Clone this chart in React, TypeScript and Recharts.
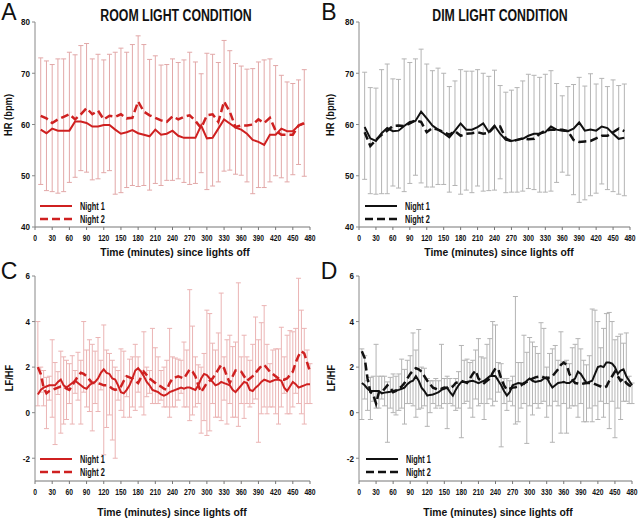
import { ErrorBar, Line, LineChart, XAxis, YAxis } from "recharts";

const FONT = "'Liberation Sans', Arial, sans-serif";

// x ticks shared by all panels
const X_TICKS = [0, 30, 60, 90, 120, 150, 180, 210, 240, 270, 300, 330, 360, 390, 420, 450, 480];
const HR_TICKS = [40, 50, 60, 70, 80];
const LFHF_TICKS = [-2, 0, 2, 4, 6];

// HR sampled every 10 minutes
const HR_MINUTES = [
  10, 20, 30, 40, 50, 60, 70, 80, 90, 100, 110, 120, 130, 140, 150, 160,
  170, 180, 190, 200, 210, 220, 230, 240, 250, 260, 270, 280, 290, 300, 310, 320,
  330, 340, 350, 360, 370, 380, 390, 400, 410, 420, 430, 440, 450, 460, 470,
];

// LF/HF sampled every 5 minutes
const LFHF_MINUTES = [
  5, 10, 15, 20, 25, 30, 35, 40, 45, 50, 55, 60,
  65, 70, 75, 80, 85, 90, 95, 100, 105, 110, 115, 120,
  125, 130, 135, 140, 145, 150, 155, 160, 165, 170, 175, 180,
  185, 190, 195, 200, 205, 210, 215, 220, 225, 230, 235, 240,
  245, 250, 255, 260, 265, 270, 275, 280, 285, 290, 295, 300,
  305, 310, 315, 320, 325, 330, 335, 340, 345, 350, 355, 360,
  365, 370, 375, 380, 385, 390, 395, 400, 405, 410, 415, 420,
  425, 430, 435, 440, 445, 450, 455, 460, 465, 470, 475, 480,
];

// A: room light, HR
const ROOM_HR_N1 = [
  59, 58.3, 59.2, 58.8, 58.8, 58.8, 60.6, 60.6, 60.3, 59.6,
  59.6, 59.9, 59.9, 59, 58.2, 58.5, 58.9, 58.3, 58, 57.7,
  59, 58, 58.2, 58.8, 57.8, 57.4, 57.4, 57.4, 59.8, 57.3,
  57.4, 59.2, 61, 60.2, 59.4, 59, 58.2, 57, 56.6, 56,
  58, 58, 59.2, 58.7, 58.7, 59.8, 60.2,
];
const ROOM_HR_N2 = [
  61.7, 61.2, 60.3, 61, 61.5, 62, 61, 62, 63.2, 62,
  62.7, 61, 61.7, 61.5, 62, 61.2, 61.3, 64.5, 62.5, 61.8,
  61.3, 60.8, 60.5, 61.6, 61, 61.5, 61.8, 60.7, 59.3, 61.8,
  62, 60.5, 64.5, 62.5, 59.5, 59.8, 59.8, 60, 61, 60.3,
  61.3, 58.8, 58, 58, 58, 59.8, 60.3,
];
const ROOM_HR_TOP = [
  73.0, 72.4, 71.7, 72.8, 72.8, 74.1, 73.6, 75.4, 75.8, 72.8,
  73.7, 72.6, 73.7, 74.1, 74.9, 74.1, 75.6, 77.3, 75.6, 72.7,
  73.4, 71.6, 71.7, 72.8, 72.1, 72.6, 74.1, 72.2, 69.9, 73.9,
  73.7, 72.1, 76.4, 74.4, 71.9, 71.4, 70.8, 70.9, 72.2, 72.6,
  72.8, 71.5, 69.6, 68.3, 68.0, 68.7, 70.7,
];
const ROOM_HR_BOTTOM = [
  48.3, 47.1, 46.9, 46.6, 46.9, 48.7, 49.7, 51.0, 50.7, 49.2,
  49.4, 50.6, 51.0, 46.4, 46.7, 47.7, 48.1, 47.9, 48.1, 47.2,
  48.5, 48.1, 49.1, 49.1, 49.4, 48.7, 48.3, 48.5, 50.6, 47.3,
  48.0, 48.8, 50.9, 51.1, 50.3, 50.1, 48.8, 46.5, 47.7, 47.7,
  48.8, 50.0, 49.6, 48.8, 50.2, 52.2, 49.9,
];

// B: dim light, HR
const DIM_HR_N1 = [
  59.5, 57.3, 56.8, 58.3, 59.3, 58.7, 58.8, 59.7, 60.5, 60.7,
  62.5, 61.2, 59.8, 59, 58.3, 57.5, 58.8, 60.2, 59, 59,
  59.5, 60.2, 58.5, 59.8, 58.2, 57, 56.8, 57, 57.2, 57.8,
  58.2, 58.2, 58.5, 59.6, 59, 58.8, 58.7, 59.2, 60.4, 58.8,
  59, 58.8, 59.6, 59.3, 58.2, 57.2, 57.4,
];
const DIM_HR_N2 = [
  58.5, 55.8, 57, 58, 58.8, 59.7, 59.8, 59.7, 60.2, 60.8,
  60.5, 58.5, 59.3, 59, 58.5, 58, 58.7, 57.8, 58.2, 58.3,
  58.5, 58.2, 58.4, 59.6, 59.6, 57.3, 56.7, 57, 57.3, 57.1,
  57.2, 58.2, 58.8, 59, 59, 59, 58.7, 57, 56.6, 56.7,
  56.8, 57.3, 57.8, 57.8, 58.5, 59.2, 58.7,
];
const DIM_HR_TOP = [
  70.2, 67.2, 67.1, 70.7, 71.8, 68.9, 68.8, 72.8, 72.1, 72.8,
  74.7, 71.8, 70.5, 71.0, 70.0, 67.4, 68.5, 70.7, 70.4, 70.4,
  70.7, 70.0, 69.4, 70.6, 67.6, 66.3, 66.7, 67.2, 68.5, 69.8,
  69.6, 69.2, 69.8, 70.5, 68.0, 65.6, 67.4, 67.8, 69.2, 67.5,
  69.9, 67.9, 69.0, 67.4, 68.7, 67.6, 67.9,
];
const DIM_HR_BOTTOM = [
  49.3, 46.5, 46.4, 46.5, 46.5, 48.0, 47.6, 46.9, 48.5, 50.1,
  48.6, 47.8, 47.8, 48.3, 48.3, 46.8, 48.1, 46.4, 47.2, 46.7,
  48.0, 47.0, 47.1, 47.2, 49.4, 46.7, 46.8, 46.8, 47.0, 47.5,
  47.3, 46.8, 46.8, 47.0, 48.7, 50.7, 50.1, 46.3, 44.8, 45.3,
  46.1, 46.6, 48.4, 47.3, 46.9, 46.4, 46.1,
];

// C: room light, LF/HF
const ROOM_LF_N1 = [
  0.8, 1.0, 1.1, 1.15, 1.2, 1.2, 1.2, 1.35, 1.45, 1.2, 1.1, 1.2,
  1.3, 1.4, 1.3, 1.2, 1.1, 1.05, 1.2, 1.3, 1.35, 1.5, 1.75, 1.9,
  1.75, 1.7, 1.5, 1.45, 1.2, 0.9, 0.85, 1.0, 1.2, 1.5, 1.85, 1.95,
  1.8, 1.6, 1.35, 1.2, 1.0, 0.95, 0.9, 0.8, 0.75, 0.8, 0.9, 0.95,
  1.0, 1.05, 1.1, 1.05, 1.1, 1.1, 1.05, 1.0, 1.2, 1.5, 1.7, 1.65,
  1.5, 1.35, 1.2, 1.25, 1.35, 1.3, 1.25, 1.2, 1.0, 0.9, 1.05, 1.2,
  1.35, 1.3, 1.0, 0.95, 1.1, 1.2, 1.35, 1.45, 1.4, 1.35, 1.4, 1.45,
  1.45, 1.4, 1.1, 0.95, 1.15, 1.35, 1.25, 1.1, 1.15, 1.2, 1.25, 1.25,
];
const ROOM_LF_N2 = [
  2.0, 1.7, 1.1, 0.85, 0.95, 1.0, 1.05, 1.1, 1.15, 1.15, 1.05, 1.0,
  1.2, 1.4, 1.6, 1.75, 1.7, 1.6, 1.45, 1.3, 1.3, 1.3, 1.25, 1.2,
  1.2, 1.15, 1.05, 1.0, 1.05, 1.15, 1.4, 1.6, 1.55, 1.5, 1.4, 1.3,
  1.55, 1.8, 1.65, 1.5, 1.4, 1.3, 1.2, 1.15, 1.05, 1.0, 1.3, 1.5,
  1.55, 1.6, 1.55, 1.5, 1.7, 1.9, 1.8, 1.6, 1.2, 0.9, 1.1, 1.3,
  1.4, 1.5, 1.7, 1.9, 2.1, 1.95, 1.6, 1.3, 1.6, 1.85, 1.85, 1.8,
  1.6, 1.4, 1.5, 1.6, 1.75, 1.9, 2.05, 2.1, 1.95, 1.8, 1.7, 1.6,
  1.5, 1.45, 1.45, 1.5, 1.65, 1.8, 2.2, 2.5, 2.7, 2.6, 2.2, 1.8,
];
const ROOM_LF_TOP = [
  4.0, 2.0, 1.85, 1.55, 1.6, 3.2, 2.2, 1.8, 2.7, 2.45, 2.3, 2.15,
  2.5, 1.85, 2.65, 2.3, 4.0, 2.75, 3.2, 3.0, 2.7, 3.3, 2.3, 3.85,
  2.75, 2.6, 2.3, 2.0, 1.85, 2.8, 2.7, 1.6, 2.35, 2.45, 3.0, 2.45,
  1.85, 3.55, 2.0, 1.85, 3.7, 2.85, 2.45, 1.85, 2.0, 2.3, 3.7, 2.45,
  2.4, 2.35, 2.3, 3.1, 2.75, 5.4, 3.8, 2.45, 2.1, 2.0, 2.6, 4.5,
  4.35, 3.05, 2.75, 3.5, 5.25, 2.45, 3.2, 3.4, 2.9, 3.1, 5.7, 2.45,
  3.4, 2.45, 2.3, 3.0, 4.2, 3.2, 3.95, 4.7, 3.0, 2.15, 2.75, 2.8,
  2.8, 3.75, 2.45, 3.4, 3.6, 3.55, 3.7, 5.9, 4.5, 3.7, 2.75, 2.15,
];
const ROOM_LF_BOTTOM = [
  0.3, 0.9, 0.3, -0.7, 0.55, -0.2, -1.4, 0.8, -0.9, -0.5, -0.3, 0.4,
  -0.5, 0.85, 0.55, -0.5, 0.9, 0.25, 0.05, -0.8, 0.4, 0.05, 1.0, -1.85,
  -0.65, -0.1, -1.2, -2.0, 0.55, 0.1, -0.2, 0.7, -0.2, 0.25, 0.1, 0.9,
  0.25, -0.1, 0.7, 0.85, 0.4, 0.4, 0.4, 0.55, 0.25, 0.25, -0.2, 0.25,
  0.25, 0.55, 0.85, 0.25, 0.25, -0.35, -0.1, 0.25, 0.4, -0.9, -0.35, -1.0,
  -0.8, 0.4, -0.2, -0.2, -0.35, 0.55, -0.5, 0.4, -0.2, -0.2, -0.6, 0.4,
  -0.25, 0.4, 0.25, 0.4, 0.6, -1.3, -0.05, 0.25, -0.05, 0.25, 0.25, -0.05,
  -0.5, 0.25, 0.85, -0.05, -0.05, 0.25, 0.85, 0.4, -0.05, -0.5, 0.4, 0.4,
];

// D: dim light, LF/HF
const DIM_LF_N1 = [
  1.3, 1.2, 1.05, 0.95, 0.95, 0.95, 0.95, 0.85, 0.88, 0.9, 0.92, 0.95,
  0.98, 1.0, 1.05, 1.1, 1.25, 1.35, 1.4, 1.6, 1.4, 1.1, 0.95, 0.75,
  0.78, 0.8, 0.85, 0.9, 1.0, 1.05, 1.1, 0.9, 0.75, 1.0, 1.2, 1.35,
  1.35, 1.35, 1.38, 1.4, 1.35, 1.3, 1.35, 1.4, 1.5, 1.6, 1.62, 1.6,
  1.4, 1.2, 0.95, 0.75, 0.9, 1.2, 1.25, 1.3, 1.28, 1.25, 1.4, 1.5,
  1.4, 1.35, 1.38, 1.4, 1.5, 1.55, 1.3, 1.1, 1.2, 1.3, 1.32, 1.35,
  1.3, 1.3, 1.4, 1.5, 1.8, 1.7, 1.5, 1.3, 1.35, 1.4, 1.7, 2.0,
  2.05, 2.0, 2.2, 2.2, 2.15, 2.0, 1.7, 1.85, 1.9, 1.6, 1.4, 1.2,
];
const DIM_LF_N2 = [
  2.7, 2.4, 1.5, 0.9, 0.8, 0.4, 0.9, 0.9, 1.05, 1.2, 1.1, 0.9,
  0.95, 1.05, 1.15, 1.3, 1.5, 1.7, 1.85, 1.95, 1.9, 1.8, 1.6, 1.4,
  1.25, 1.1, 1.05, 1.0, 1.05, 1.1, 1.08, 1.05, 1.15, 1.3, 1.35, 1.4,
  1.35, 1.3, 1.5, 1.7, 1.85, 1.5, 1.4, 1.3, 1.4, 1.5, 1.75, 1.95,
  1.9, 1.5, 1.2, 1.0, 1.05, 1.1, 1.12, 1.15, 1.2, 1.3, 1.35, 1.4,
  1.5, 1.55, 1.58, 1.6, 1.55, 1.5, 1.55, 1.6, 1.75, 1.9, 2.1, 2.2,
  2.1, 1.7, 1.45, 1.3, 1.28, 1.25, 1.28, 1.3, 1.3, 1.3, 1.25, 1.2,
  1.15, 1.1, 1.15, 1.4, 1.6, 1.8, 1.6, 1.4, 1.5, 1.3, 1.2, 1.15,
];
const DIM_LF_TOP = [
  2.8, 2.5, 1.4, 1.55, 1.6, 3.0, 1.6, 1.6, 1.6, 1.35, 1.55, 1.7,
  1.6, 1.7, 2.35, 1.9, 2.3, 2.5, 3.5, 2.75, 3.65, 2.0, 1.95, 1.5,
  1.4, 1.4, 1.5, 1.4, 3.0, 1.5, 1.6, 1.5, 1.2, 1.5, 1.8, 2.95,
  2.3, 2.35, 2.2, 2.3, 2.75, 3.25, 2.45, 2.4, 3.0, 3.25, 4.0, 3.85,
  2.2, 2.15, 1.5, 1.5, 1.4, 1.6, 5.1, 2.2, 2.2, 3.4, 2.65, 3.3,
  3.1, 2.9, 2.6, 3.95, 3.7, 2.0, 2.6, 2.8, 2.95, 2.3, 3.55, 2.25,
  2.3, 2.15, 2.85, 3.0, 3.25, 2.8, 2.3, 2.1, 2.5, 4.55, 4.5, 4.0,
  2.85, 3.7, 4.35, 4.4, 4.0, 3.2, 3.35, 3.45, 3.05, 3.5, 1.6, 1.3,
];
const DIM_LF_BOTTOM = [
  -0.3, 0.6, 0.1, -0.3, 0.5, 0.2, 0.2, 0.6, 0.3, -1.3, 0.2, 0.0,
  -0.1, 0.1, 0.2, -0.5, 0.4, 0.4, 0.3, -0.2, 0.15, 0.2, 0.3, -0.6,
  0.0, 0.4, 0.2, 0.3, 0.2, 0.4, -0.7, 0.4, 0.3, 0.1, 0.2, -1.1,
  0.4, 0.5, 0.2, -0.2, 0.6, 0.3, 0.4, -0.3, 0.4, 0.6, 0.3, 0.5,
  0.9, -1.5, 0.4, 0.1, 0.5, 0.3, -0.5, -0.4, 0.2, 0.4, -1.35, 0.3,
  -0.1, 0.4, 0.2, 0.4, 0.5, -0.2, 0.3, -1.3, 0.5, 0.3, -0.9, 0.4,
  -0.9, 0.2, 0.3, 0.3, -0.2, 0.4, -0.4, -0.4, 0.2, -0.4, 0.3, -0.3,
  0.5, -0.2, 0.4, -0.7, 0.5, -1.1, 0.2, -0.3, 0.5, 0.5, 0.4, 0.4,
];

function buildRows(minutes: number[], n1: number[], n2: number[], tops: number[], bottoms: number[]) {
  return minutes.map((minute, i) => ({
    minute,
    night1: n1[i],
    night2: n2[i],
    mid: (tops[i] + bottoms[i]) / 2,
    spread: (tops[i] - bottoms[i]) / 2,
  }));
}

const RED = "#cf2020";
const BLACK = "#111111";

const PANELS = [
  {
    key: "A",
    rows: buildRows(HR_MINUTES, ROOM_HR_N1, ROOM_HR_N2, ROOM_HR_TOP, ROOM_HR_BOTTOM),
    left: 0, top: 0,
    margin: { top: 22, right: 10, bottom: 5, left: 13 },
    domain: [40, 80], ticks: HR_TICKS,
    color: RED, barColor: "#e2a8a8",
    title: "ROOM LIGHT CONDITION", titleX: 176, titleY: 16,
    yLabel: "HR (bpm)", yLabelX: 8, yLabelY: 115,
    letterX: 9, letterY: 12,
    xTitleX: 175, xTitleY: 253,
    legendX: 40, legendY: 206,
  },
  {
    key: "B",
    rows: buildRows(HR_MINUTES, DIM_HR_N1, DIM_HR_N2, DIM_HR_TOP, DIM_HR_BOTTOM),
    left: 320, top: 0,
    margin: { top: 22, right: 10, bottom: 5, left: 17 },
    domain: [40, 80], ticks: HR_TICKS,
    color: BLACK, barColor: "#b4b4b4",
    title: "DIM LIGHT CONDITION", titleX: 500, titleY: 16,
    yLabel: "HR (bpm)", yLabelX: 330, yLabelY: 115,
    letterX: 329, letterY: 12,
    xTitleX: 499, xTitleY: 253,
    legendX: 365, legendY: 206,
  },
  {
    key: "C",
    rows: buildRows(LFHF_MINUTES, ROOM_LF_N1, ROOM_LF_N2, ROOM_LF_TOP, ROOM_LF_BOTTOM),
    left: 0, top: 260,
    margin: { top: 16, right: 10, bottom: 11, left: 13 },
    domain: [-3, 6], ticks: LFHF_TICKS,
    color: RED, barColor: "#ebb4b4",
    title: "", titleX: 0, titleY: 0,
    yLabel: "LF/HF", yLabelX: 9, yLabelY: 378,
    letterX: 9, letterY: 271,
    xTitleX: 172, xTitleY: 513,
    legendX: 40, legendY: 459,
  },
  {
    key: "D",
    rows: buildRows(LFHF_MINUTES, DIM_LF_N1, DIM_LF_N2, DIM_LF_TOP, DIM_LF_BOTTOM),
    left: 320, top: 260,
    margin: { top: 16, right: 8, bottom: 11, left: 17 },
    domain: [-3, 6], ticks: LFHF_TICKS,
    color: BLACK, barColor: "#b4b4b4",
    title: "", titleX: 0, titleY: 0,
    yLabel: "LF/HF", yLabelX: 331, yLabelY: 378,
    letterX: 329, letterY: 271,
    xTitleX: 498, xTitleY: 513,
    legendX: 366, legendY: 459,
  },
];

// condensed bold tick labels (no narrow font installed, so squeeze horizontally)
function XTick({ x, y, payload }: any) {
  return (
    <g transform={`translate(${x},${y})`}>
      <text transform="scale(0.75,1)" textAnchor="middle" dy="0.71em" fontSize={9} fontWeight={700} fill="#111" fontFamily={FONT}>
        {payload.value}
      </text>
    </g>
  );
}

function YTick({ x, y, payload }: any) {
  return (
    <g transform={`translate(${x},${y})`}>
      <text transform="scale(0.85,1)" textAnchor="end" dy="0.355em" fontSize={9.5} fontWeight={700} fill="#111" fontFamily={FONT}>
        {payload.value}
      </text>
    </g>
  );
}

function Centered({ x, y, size, bold = true, rotate = false, squeeze = 1, children }: any) {
  return (
    <div
      style={{
        position: "absolute",
        left: x,
        top: y,
        transform: `translate(-50%, -50%)${rotate ? " rotate(-90deg)" : ""} scaleX(${squeeze})`,
        fontSize: size,
        fontWeight: bold ? 700 : 400,
        lineHeight: 1,
        whiteSpace: "nowrap",
        color: "#111",
        fontFamily: FONT,
      }}
    >
      {children}
    </div>
  );
}

function LegendBox({ x, y, color }: { x: number; y: number; color: string }) {
  const items = [
    { label: "Night 1", dash: undefined, w: 2 },
    { label: "Night 2", dash: "8 4", w: 2.5 },
  ];
  return (
    <div style={{ position: "absolute", left: x, top: y - 7 }}>
      {items.map((it) => (
        <div key={it.label} style={{ display: "flex", alignItems: "center", height: 13.5 }}>
          <svg width={32} height={8}>
            <line x1={0} y1={4} x2={32} y2={4} stroke={color} strokeWidth={it.w} strokeDasharray={it.dash} />
          </svg>
          <span
            style={{
              marginLeft: 8,
              fontSize: 10.5,
              fontWeight: 700,
              fontFamily: FONT,
              color: "#111",
              display: "inline-block",
              transform: "scaleX(0.7)",
              transformOrigin: "left center",
              whiteSpace: "nowrap",
            }}
          >
            {it.label}
          </span>
        </div>
      ))}
    </div>
  );
}

function Panel({ p }: { p: (typeof PANELS)[number] }) {
  return (
    <div style={{ position: "absolute", left: p.left, top: p.top, width: 320, height: 262 }}>
      <LineChart width={320} height={262} data={p.rows} margin={p.margin}>
        <XAxis
          dataKey="minute"
          type="number"
          domain={[0, 480]}
          ticks={X_TICKS}
          interval={0}
          height={30}
          tick={XTick}
          tickSize={3}
          tickMargin={5}
          axisLine={{ stroke: "#777" }}
          tickLine={{ stroke: "#777" }}
        />
        <YAxis
          type="number"
          domain={p.domain}
          ticks={p.ticks}
          interval={0}
          width={22}
          allowDataOverflow
          tick={YTick}
          tickSize={3}
          tickMargin={2}
          axisLine={{ stroke: "#888" }}
          tickLine={{ stroke: "#888" }}
        />
        <Line dataKey="mid" stroke="none" dot={false} activeDot={false} isAnimationActive={false}>
          <ErrorBar dataKey="spread" direction="y" width={2.5} stroke={p.barColor} strokeWidth={1} />
        </Line>
        <Line
          dataKey="night1"
          type="linear"
          stroke={p.color}
          strokeWidth={2}
          dot={false}
          activeDot={false}
          isAnimationActive={false}
        />
        <Line
          dataKey="night2"
          type="linear"
          stroke={p.color}
          strokeWidth={2.5}
          strokeDasharray="8 4"
          dot={false}
          activeDot={false}
          isAnimationActive={false}
        />
      </LineChart>
    </div>
  );
}

export default function App() {
  return (
    <div style={{ position: "absolute", left: 0, top: 0, width: 640, height: 522, background: "#fff", overflow: "hidden" }}>
      {PANELS.map((p) => (
        <Panel key={p.key} p={p} />
      ))}
      {PANELS.map((p) => (
        <div key={p.key + "-text"}>
          <Centered x={p.letterX} y={p.letterY} size={23} bold={false}>
            {p.key}
          </Centered>
          {p.title && (
            <Centered x={p.titleX} y={p.titleY} size={16} squeeze={0.77}>
              {p.title}
            </Centered>
          )}
          <Centered x={p.yLabelX} y={p.yLabelY} size={11} rotate squeeze={0.85}>
            {p.yLabel}
          </Centered>
          <Centered x={p.xTitleX} y={p.xTitleY} size={11.5} squeeze={0.9}>
            Time (minutes) since lights off
          </Centered>
          <LegendBox x={p.legendX} y={p.legendY} color={p.color} />
        </div>
      ))}
    </div>
  );
}
